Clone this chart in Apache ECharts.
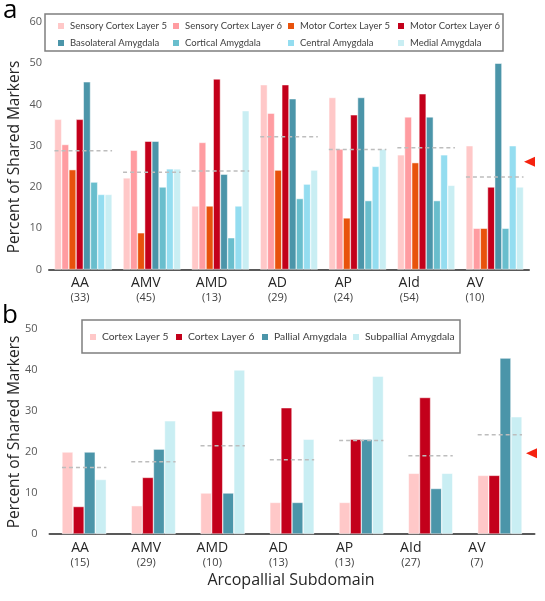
<!DOCTYPE html>
<html><head><meta charset="utf-8">
<script src="https://cdn.jsdelivr.net/npm/echarts@6/dist/echarts.min.js"></script>
<style>html,body{margin:0;padding:0;background:#fff}#c{width:545px;height:601px}</style>
</head><body><div id="c"></div>
<script>
const categories = ['AA','AMV','AMD','AD','AP','AId','AV'];
const countsA = [33,45,13,29,24,54,10];
const countsB = [15,29,10,13,13,27,7];
const yTicksA = [0,10,20,30,40,50,60];
const yTicksB = [0,10,20,30,40,50];

const namesA = ['Sensory Cortex Layer 5','Sensory Cortex Layer 6','Motor Cortex Layer 5','Motor Cortex Layer 6',
  'Basolateral Amygdala','Cortical Amygdala','Central Amygdala','Medial Amygdala'];
const colorsA = ['#FFC8C8','#FF9CA1','#E8520C','#C3001B','#4B95A9','#69BECD','#94DDF0','#C9EEF3'];
const sensoryL5 = [36.4,22.2,15.4,44.8,41.7,27.8,30.0];
const sensoryL6 = [30.3,28.9,30.8,37.9,29.2,37.0,10.0];
const motorL5 = [24.2,8.9,15.4,24.1,12.5,25.9,10.0];
const motorL6 = [36.4,31.1,46.2,44.8,37.5,42.6,20.0];
const basolateral = [45.5,31.1,23.1,41.4,41.7,37.0,50.0];
const cortical = [21.2,20.0,7.7,17.2,16.7,16.7,10.0];
const central = [18.2,24.4,15.4,20.7,25.0,27.8,30.0];
const medial = [18.2,24.4,38.5,24.1,29.2,20.4,20.0];
const meanA = [28.8,23.6,23.9,32.2,29.1,29.5,22.4];
const arrowA = 26.1;

const namesB = ['Cortex Layer 5','Cortex Layer 6','Pallial Amygdala','Subpallial Amygdala'];
const colorsB = ['#FFC8C8','#C3001B','#4B95A9','#C9EEF3'];
const cortexL5 = [20.0,6.9,10.0,7.7,7.7,14.8,14.3];
const cortexL6 = [6.7,13.8,30.0,30.8,23.1,33.3,14.3];
const pallial = [20.0,20.7,10.0,7.7,23.1,11.1,42.9];
const subpallial = [13.3,27.6,40.0,23.1,38.5,14.8,28.6];
const meanB = [16.2,17.6,21.5,18.1,22.8,19.1,24.2];
const arrowB = 19.7;

const FONT = 'Open Sans';
const LFONT = 'Lato';
const dataA = [sensoryL5,sensoryL6,motorL5,motorL6,basolateral,cortical,central,medial];
const dataB = [cortexL5,cortexL6,pallial,subpallial];

const chart = echarts.init(document.getElementById('c'), null, {renderer:'canvas'});

function barSeries(names, colors, data, xi, catGap){
  return names.map((n,k)=>({
    name:n, type:'bar', xAxisIndex:xi, yAxisIndex:xi, data:data[k],
    barGap:'0%', barCategoryGap:catGap,
    itemStyle:{color:colors[k], borderColor:'#ffffff', borderWidth:0.5},
    emphasis:{disabled:true}, animation:false
  }));
}
function meanSeries(vals, xi, frac){
  return {type:'custom', xAxisIndex:xi, yAxisIndex:xi, z:10, silent:true, animation:false,
    data: vals.map((v,i)=>[i,v]), encode:{x:0,y:1},
    renderItem(params, api){
      const c = api.coord([api.value(0), api.value(1)]);
      const w = api.size([1,0])[0]*frac;
      return {type:'line', shape:{x1:c[0]-w,y1:c[1],x2:c[0]+w,y2:c[1]},
        style:{stroke:'#BDBDBD', lineWidth:1.5, lineDash:[4,3]}};
    }};
}
const labelRich = {
  n:{fontFamily:FONT, fontSize:14, color:'#262626', lineHeight:16},
  c:{fontFamily:FONT, fontSize:11, color:'#404040', lineHeight:13}
};
function legendItem(name, left, top, fs){
  return {data:[name], left:left, top:top, padding:0, itemWidth:8, itemHeight:8,
    icon:'rect', textStyle:{fontFamily:LFONT, fontSize:fs, color:'#404040', lineHeight:12}, selectedMode:false};
}

const option = {
  animation:false,
  grid:[
    {left:49, width:480, top:22, height:247.5},
    {left:47, width:461, top:22, height:247.5},
    {left:49.5, width:485, top:329, height:205},
    {left:47, width:463, top:329, height:205}
  ],
  xAxis:[
    {type:'category', gridIndex:0, data:categories, axisLabel:{show:false}, axisTick:{show:false},
      axisLine:{lineStyle:{color:'#595959', width:2}}},
    {type:'category', gridIndex:1, data:categories, axisTick:{show:false}, axisLine:{show:false},
      axisLabel:{margin:6, formatter:(v,i)=>`{n|${v}}\n{c|(${countsA[i]})}`, rich:labelRich}},
    {type:'category', gridIndex:2, data:categories, axisLabel:{show:false}, axisTick:{show:false},
      axisLine:{lineStyle:{color:'#595959', width:2}}},
    {type:'category', gridIndex:3, data:categories, axisTick:{show:false}, axisLine:{show:false},
      axisLabel:{margin:6, formatter:(v,i)=>`{n|${v}}\n{c|(${countsB[i]})}`, rich:labelRich}}
  ],
  yAxis:[
    {type:'value', gridIndex:0, min:yTicksA[0], max:yTicksA[yTicksA.length-1], interval:10,
      splitLine:{show:false}, axisLine:{show:false}, axisTick:{show:false},
      axisLabel:{margin:7, fontFamily:FONT, fontSize:11, color:'#595959'}},
    {type:'value', gridIndex:1, min:0, max:60, show:false, splitLine:{show:false}},
    {type:'value', gridIndex:2, min:yTicksB[0], max:yTicksB[yTicksB.length-1], interval:10,
      splitLine:{show:false}, axisLine:{show:false}, axisTick:{show:false},
      axisLabel:{margin:12, fontFamily:FONT, fontSize:11, color:'#595959'}},
    {type:'value', gridIndex:3, min:0, max:50, show:false, splitLine:{show:false}}
  ],
  legend:[
    legendItem(namesA[0],56,20,9.5), legendItem(namesA[1],171,20,9.5), legendItem(namesA[2],286,20,9.5), legendItem(namesA[3],396,20,9.5),
    legendItem(namesA[4],56,37,9.5), legendItem(namesA[5],171,37,9.5), legendItem(namesA[6],286,37,9.5), legendItem(namesA[7],396,37,9.5),
    legendItem(namesB[0],88,331,10.3), legendItem(namesB[1],174,331,10.3), legendItem(namesB[2],260,331,10.3), legendItem(namesB[3],351,331,10.3)
  ],
  series:[
    ...barSeries(namesA, colorsA, dataA, 0, '16%'),
    meanSeries(meanA, 0, 0.42),
    ...barSeries(namesB, colorsB, dataB, 2, '36%'),
    meanSeries(meanB, 2, 0.32)
  ],
  graphic:[
    {type:'rect', shape:{x:45,y:14,width:458,height:37}, style:{fill:null, stroke:'#7F7F7F', lineWidth:1.5}, z:1},
    {type:'rect', shape:{x:82,y:320,width:378,height:33}, style:{fill:null, stroke:'#7F7F7F', lineWidth:1.5}, z:1},
    {type:'text', x:3, y:-2, style:{text:'a', font:'26px "Open Sans"', fill:'#000'}},
    {type:'text', x:2, y:303, style:{text:'b', font:'26px "Open Sans"', fill:'#000'}},
    {type:'text', x:15, y:157, rotation:Math.PI/2, style:{text:'Percent of Shared Markers', font:'15.5px "Open Sans"', fill:'#262626', textAlign:'center', textVerticalAlign:'middle'}},
    {type:'text', x:15, y:432, rotation:Math.PI/2, style:{text:'Percent of Shared Markers', font:'15.5px "Open Sans"', fill:'#262626', textAlign:'center', textVerticalAlign:'middle'}},
    {type:'text', x:291, y:580, style:{text:'Arcopallial Subdomain', font:'16px "Open Sans"', fill:'#262626', textAlign:'center', textVerticalAlign:'middle'}}
  ]
};
chart.setOption(option);
const ya = chart.convertToPixel({yAxisIndex:0}, arrowA);
const yb = chart.convertToPixel({yAxisIndex:2}, arrowB);
chart.setOption({graphic:[
  ...option.graphic,
  {type:'polygon', shape:{points:[[524,ya],[535,ya-5],[535,ya+5]]}, style:{fill:'#F5220F'}},
  {type:'polygon', shape:{points:[[526,yb],[537,yb-5],[537,yb+5]]}, style:{fill:'#F5220F'}}
]});
</script></body></html>
